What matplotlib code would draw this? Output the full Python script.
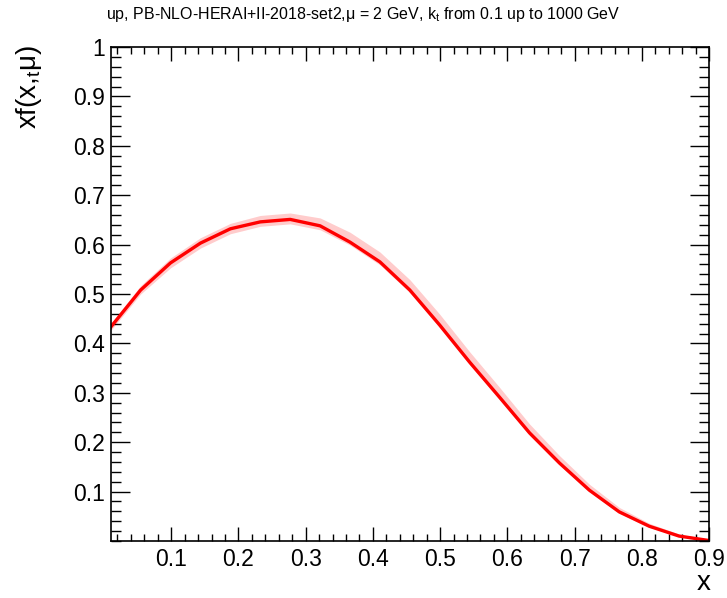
import matplotlib
matplotlib.use("Agg")
import matplotlib.pyplot as plt
from matplotlib.ticker import MultipleLocator, FixedLocator

plt.rcParams['font.family'] = ['Liberation Sans', 'DejaVu Sans']
plt.rcParams['mathtext.fontset'] = 'custom'
plt.rcParams['mathtext.rm'] = 'Liberation Sans'
plt.rcParams['mathtext.it'] = 'Liberation Sans'

# x grid of the distribution
x = [0.0100, 0.0545, 0.0990, 0.1435, 0.1880, 0.2325, 0.2770, 0.3215, 0.3660, 0.4105,
     0.4550, 0.4995, 0.5440, 0.5885, 0.6330, 0.6775, 0.7220, 0.7665, 0.8110, 0.8555, 0.9000]
# central value xf(x,mu)
xf = [0.433, 0.508, 0.563, 0.603, 0.632, 0.646, 0.651, 0.638, 0.605, 0.565,
      0.508, 0.437, 0.362, 0.291, 0.219, 0.158, 0.103, 0.059, 0.030, 0.010, 0.001]
# uncertainty band
band_lo = [0.426, 0.500, 0.553, 0.593, 0.622, 0.637, 0.642, 0.630, 0.599, 0.559,
           0.503, 0.432, 0.357, 0.286, 0.214, 0.154, 0.100, 0.056, 0.028, 0.009, 0.000]
band_hi = [0.440, 0.517, 0.573, 0.614, 0.643, 0.659, 0.664, 0.654, 0.625, 0.585,
           0.529, 0.459, 0.383, 0.311, 0.237, 0.173, 0.115, 0.068, 0.036, 0.014, 0.002]

title = "up, PB-NLO-HERAI+II-2018-set2,μ = 2 GeV, k$_{\\rm t}$ from 0.1 up to 1000 GeV"

fig = plt.figure(figsize=(7.27, 5.98), dpi=100)
ax = fig.add_axes([0.1523, 0.0953, 0.9752 - 0.1523, 0.9214 - 0.0953])

ax.fill_between(x, band_lo, band_hi, color='#ffcccc', lw=0)
ax.plot(x, xf, color='red', lw=2.4)

ax.set_xlim(0.01, 0.9)
ax.set_ylim(0, 1)

ax.xaxis.set_major_locator(FixedLocator([0.1, 0.2, 0.3, 0.4, 0.5, 0.6, 0.7, 0.8, 0.9]))
ax.xaxis.set_minor_locator(MultipleLocator(0.02))
ax.yaxis.set_major_locator(FixedLocator([0.1, 0.2, 0.3, 0.4, 0.5, 0.6, 0.7, 0.8, 0.9, 1.0]))
ax.yaxis.set_minor_locator(MultipleLocator(0.02))
ax.set_xticklabels(['0.1', '0.2', '0.3', '0.4', '0.5', '0.6', '0.7', '0.8', '0.9'])
ax.set_yticklabels(['0.1', '0.2', '0.3', '0.4', '0.5', '0.6', '0.7', '0.8', '0.9', '1'])

ax.tick_params(axis='both', which='both', direction='in', top=True, right=True,
               labelsize=16.5, width=1.0, color='black')
ax.tick_params(axis='y', which='major', length=14, pad=4)
ax.tick_params(axis='y', which='minor', length=7)
ax.tick_params(axis='x', which='major', length=10, pad=5)
ax.tick_params(axis='x', which='minor', length=5)
for s in ax.spines.values():
    s.set_linewidth(1.2)

fig.text(0.5, 0.976, title, ha='center', va='center', fontsize=11.5)
fig.text(0.04, 0.925, "xf(x,$_{\\rm t}$μ)", rotation=90, ha='center', va='top', fontsize=20)
fig.text(0.968, 0.004, "x", ha='center', va='bottom', fontsize=20)

fig.savefig("out.png", dpi=100)
